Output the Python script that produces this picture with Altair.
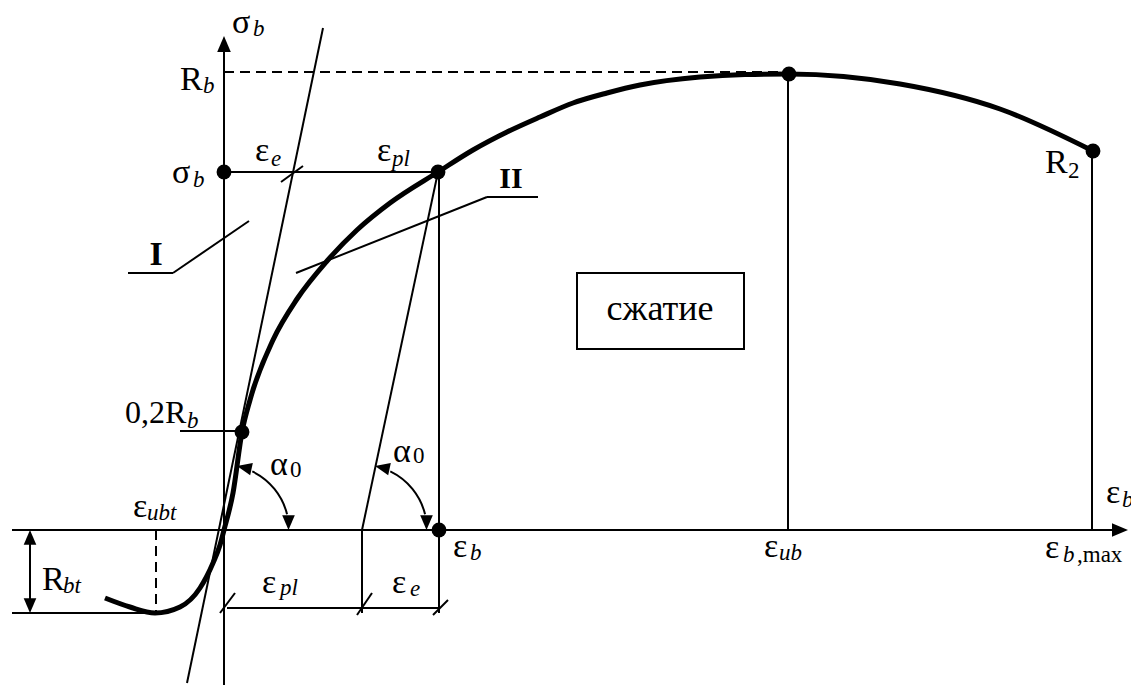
import altair as alt
import pandas as pd

# Diagram coordinates: strain eps to the right, stress sig upwards
EPS_RANGE = [-2.24, 9.07]
SIG_RANGE = [-1.55, 5.30]
W, H = 1131, 685

# Stress-strain curve of concrete (tension branch on the left, compression on the right)
curve_eps = [-1.19, -0.94, -0.69, -0.44, -0.24, -0.11, -0.04, 0.0, 0.09, 0.18, 0.26, 0.49,
             0.73, 1.03, 1.33, 1.66, 2.14, 2.49, 2.83, 3.16, 3.49, 3.83, 4.16, 4.76, 5.21,
             5.65, 6.76, 7.76, 8.69]
curve_sig = [-0.68, -0.77, -0.83, -0.77, -0.58, -0.33, -0.15, 0.0, 0.37, 0.98, 1.30, 1.90,
             2.31, 2.69, 3.00, 3.27, 3.58, 3.80, 3.98, 4.13, 4.27, 4.37, 4.45, 4.53, 4.555,
             4.56, 4.46, 4.21, 3.79]

# Marked points: sigma_b on axis, sigma_b on curve, 0.2R_b, eps_b, R_b peak, R_2
dot_eps = [0.0, 2.14, 0.18, 2.15, 5.65, 8.69]
dot_sig = [3.58, 3.58, 0.98, 0.0, 4.56, 3.79]

# Thin solid construction lines (x1, y1, x2, y2)
seg_x1 = [0.0, -2.12, -2.12, -1.94, 0.0, 2.15, 2.14, 1.38, 0.03, 0.99, 5.64, 8.68,
          -0.44, -0.96, -0.51, 3.14, 2.63, 0.57, -0.04, 1.33, 2.09]
seg_y1 = [-1.55, 0.0, -0.83, -0.08, 3.58, 3.58, 3.58, 0.0, -0.78, 5.02, 4.56, 3.79,
          0.99, 2.57, 2.57, 3.33, 3.33, 3.48, -0.83, -0.85, -0.85]
seg_x2 = [0.0, 8.95, -0.69, -1.94, 2.14, 2.15, 1.38, 1.38, 2.16, -0.37, 5.64, 8.68,
          0.18, -0.51, 0.25, 2.63, 0.72, 0.79, 0.11, 1.48, 2.24]
seg_y2 = [4.85, 0.0, -0.83, -0.75, 3.58, -0.83, 0.0, -0.83, -0.78, -1.53, 0.0, 0.0,
          0.99, 2.57, 3.09, 3.33, 2.57, 3.64, -0.63, -0.63, -0.70]

# Dashed lines: R_b level and eps_ubt
dash_x1 = [0.0, -0.68]
dash_y1 = [4.58, 0.0]
dash_x2 = [5.62, -0.68]
dash_y2 = [4.58, -0.83]

# Arrow heads: tip position, direction (deg, clockwise from up), size
head_eps = [0.0, 9.04, -1.94, -1.94, 0.13, 0.645, 1.51, 2.025]
head_sig = [4.94, 0.0, 0.0, -0.83, 0.64, 0.0, 0.64, 0.0]
head_dir = [0, 90, 0, 180, 282, 180, 282, 180]
head_size = [256, 256, 220, 220, 220, 220, 220, 220]

# Angle arcs alpha_0 (centres)
arc_eps = [0.0, 1.38]
arc_sig = [0.0, 0.0]

# Box "compression"
box_x1, box_x2, box_y1, box_y2 = [3.53], [5.20], [1.81], [2.57]

# Labels: main glyphs (upright)
main_txt = ["σ", "R", "σ", "ε", "ε", "0,2R", "α", "α", "ε", "R", "ε", "ε", "ε", "ε", "ε", "ε", "R"]
main_eps = [0.08, -0.44, -0.52, 0.31, 1.53, -0.99, 0.46, 1.69, -0.91, -1.82, 2.29, 0.38,
            1.68, 5.40, 8.21, 8.82, 8.21]
main_sig = [4.97, 4.40, 3.47, 3.69, 3.69, 1.07, 0.55, 0.68, 0.13, -0.60, -0.27, -0.63,
            -0.63, -0.27, -0.28, 0.27, 3.57]
main_size = [34, 34, 34, 34, 34, 32, 34, 34, 34, 34, 34, 34, 34, 34, 34, 34, 34]
# italic subscripts
sub_txt = ["b", "b", "b", "e", "pl", "b", "ubt", "bt", "b", "pl", "e", "ub", "b", "b"]
sub_eps = [0.29, -0.21, -0.31, 0.47, 1.68, -0.37, -0.77, -1.61, 2.46, 0.56, 1.86, 5.55, 8.39, 8.98]
sub_sig = [4.94, 4.37, 3.43, 3.64, 3.64, 1.02, 0.10, -0.63, -0.30, -0.65, -0.66, -0.30, -0.32, 0.23]
# upright subscripts
usub_txt = ["0", "0", ",max", "2"]
usub_eps = [0.66, 1.89, 8.53, 8.44]
usub_sig = [0.53, 0.67, -0.32, 3.52]
# bold region markers
bold_txt = ["I", "II"]
bold_eps = [-0.68, 2.87]
bold_sig = [2.65, 3.42]
bold_size = [34, 30]
box_txt = ["сжатие"]
box_eps = [4.36]
box_sig = [2.10]

FONT = "Liberation Serif, DejaVu Serif, serif"
xs = alt.Scale(domain=EPS_RANGE, nice=False, zero=False)
ys = alt.Scale(domain=SIG_RANGE, nice=False, zero=False)


def X(f):
    return alt.X(f, type="quantitative", scale=xs, axis=None)


def Y(f):
    return alt.Y(f, type="quantitative", scale=ys, axis=None)


curve_df = pd.DataFrame({"e": curve_eps, "s": curve_sig, "o": range(len(curve_eps))})
seg_df = pd.DataFrame({"x1": seg_x1, "y1": seg_y1, "x2": seg_x2, "y2": seg_y2})
dash_df = pd.DataFrame({"x1": dash_x1, "y1": dash_y1, "x2": dash_x2, "y2": dash_y2})
dot_df = pd.DataFrame({"e": dot_eps, "s": dot_sig})
head_df = pd.DataFrame({"e": head_eps, "s": head_sig, "a": head_dir, "z": head_size})
arc_df = pd.DataFrame({"e": arc_eps, "s": arc_sig})
box_df = pd.DataFrame({"x1": box_x1, "x2": box_x2, "y1": box_y1, "y2": box_y2})
main_df = pd.DataFrame({"t": main_txt, "e": main_eps, "s": main_sig, "z": main_size})
sub_df = pd.DataFrame({"t": sub_txt, "e": sub_eps, "s": sub_sig})
usub_df = pd.DataFrame({"t": usub_txt, "e": usub_eps, "s": usub_sig})
bold_df = pd.DataFrame({"t": bold_txt, "e": bold_eps, "s": bold_sig, "z": bold_size})
boxt_df = pd.DataFrame({"t": box_txt, "e": box_eps, "s": box_sig})

segs = alt.Chart(seg_df).mark_rule(color="black", strokeWidth=2).encode(
    x=X("x1"), y=Y("y1"), x2="x2", y2="y2")
dashes = alt.Chart(dash_df).mark_rule(color="black", strokeWidth=2, strokeDash=[10, 6]).encode(
    x=X("x1"), y=Y("y1"), x2="x2", y2="y2")
box = alt.Chart(box_df).mark_rect(fill="white", stroke="black", strokeWidth=2).encode(
    x=X("x1"), y=Y("y1"), x2="x2", y2="y2")
curve = alt.Chart(curve_df).mark_line(color="black", strokeWidth=5, interpolate="monotone").encode(
    x=X("e"), y=Y("s"), order="o:Q")
dots = alt.Chart(dot_df).mark_circle(color="black", opacity=1, size=220).encode(x=X("e"), y=Y("s"))
heads = alt.Chart(head_df).mark_point(
    shape="M0,0L0.85,2L-0.85,2Z", filled=True, color="black", opacity=1).encode(
    x=X("e"), y=Y("s"),
    angle=alt.Angle("a:Q", scale=None),
    size=alt.Size("z:Q", scale=None))
arcs = alt.Chart(arc_df).mark_arc(stroke="black", strokeWidth=2, fillOpacity=0).encode(
    x=X("e"), y=Y("s"),
    theta=alt.value(0.45), theta2=alt.value(1.325),
    radius=alt.value(65), radius2=alt.value(65))

main_t = alt.Chart(main_df).mark_text(
    font=FONT, align="left", baseline="alphabetic", color="black").encode(
    x=X("e"), y=Y("s"), text="t:N", size=alt.Size("z:Q", scale=None))
sub_t = alt.Chart(sub_df).mark_text(
    font=FONT, fontSize=23, fontStyle="italic", align="left", baseline="alphabetic",
    color="black").encode(x=X("e"), y=Y("s"), text="t:N")
usub_t = alt.Chart(usub_df).mark_text(
    font=FONT, fontSize=23, align="left", baseline="alphabetic", color="black").encode(
    x=X("e"), y=Y("s"), text="t:N")
bold_t = alt.Chart(bold_df).mark_text(
    font=FONT, fontWeight="bold", align="center", baseline="alphabetic", color="black").encode(
    x=X("e"), y=Y("s"), text="t:N", size=alt.Size("z:Q", scale=None))
box_t = alt.Chart(boxt_df).mark_text(
    font=FONT, fontSize=36, align="center", baseline="alphabetic", color="black").encode(
    x=X("e"), y=Y("s"), text="t:N")

chart = alt.layer(
    segs, dashes, box, box_t, arcs, curve, dots, heads, main_t, sub_t, usub_t, bold_t
).properties(
    width=W, height=H, padding=0, autosize="none", background="white"
).configure_view(stroke=None)

chart.save("out.html", embed_options={"renderer": "svg", "actions": False})
